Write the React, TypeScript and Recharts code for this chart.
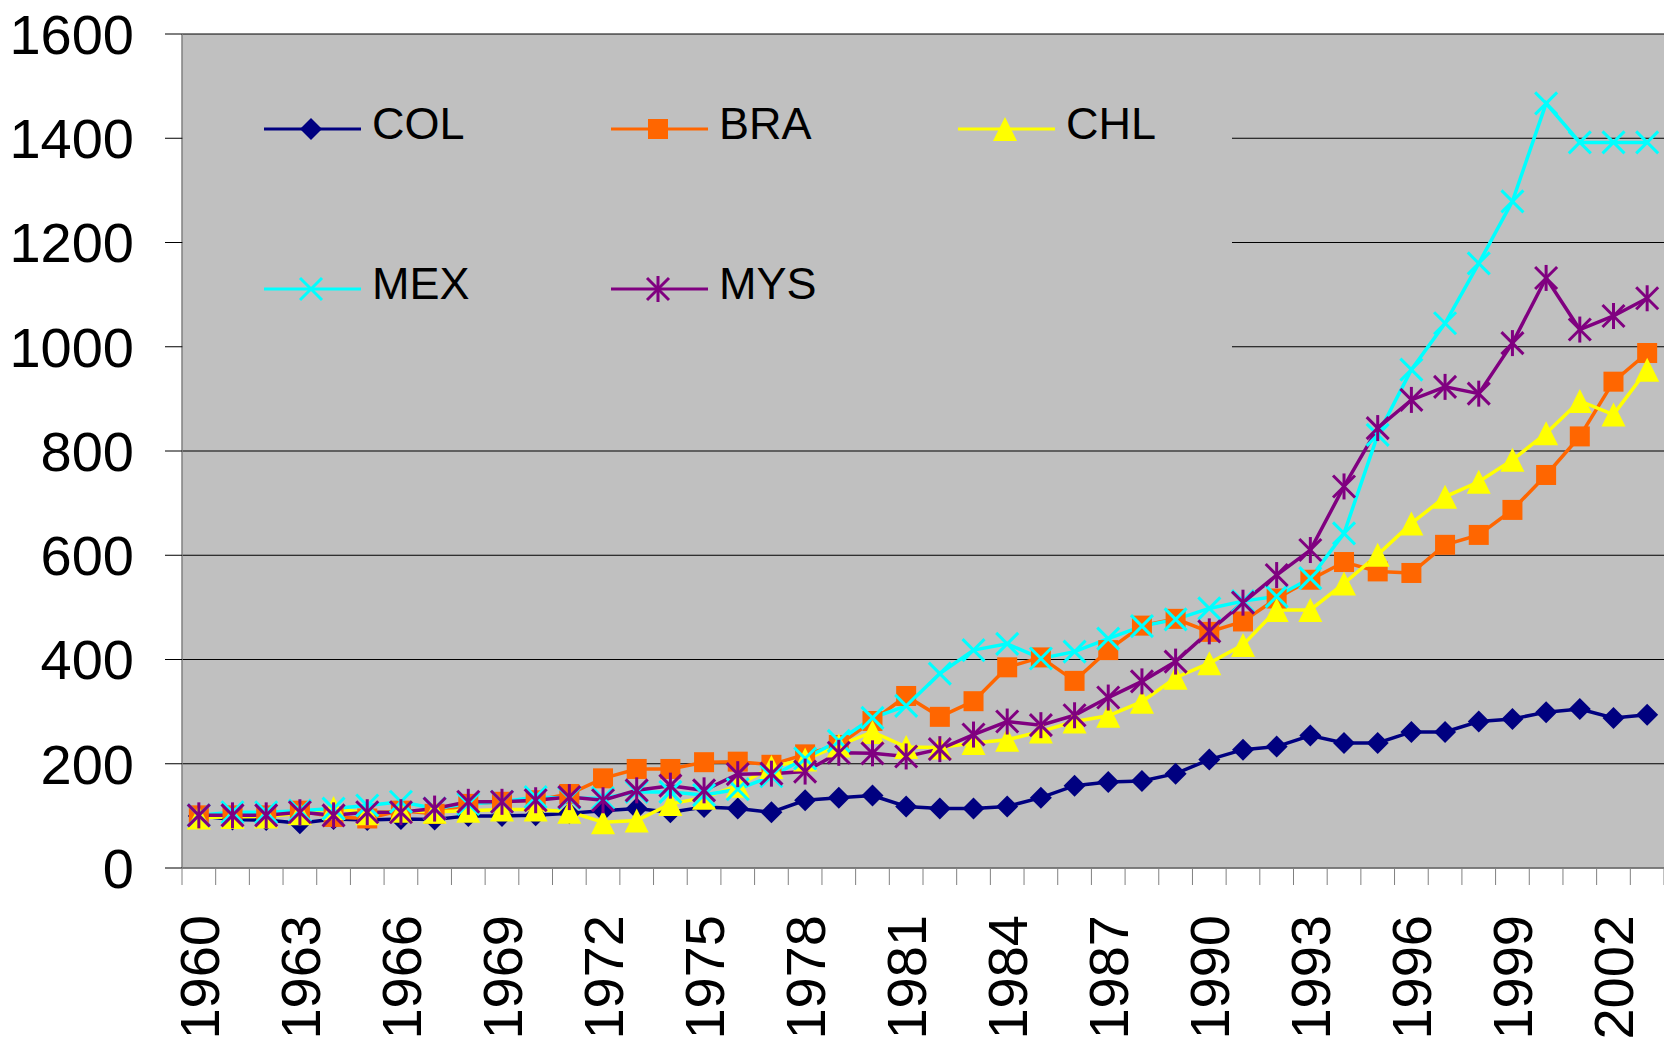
import { LineChart, Line, XAxis, YAxis, CartesianGrid, Legend } from "recharts";

const years = [
  1960, 1961, 1962, 1963, 1964, 1965, 1966, 1967, 1968, 1969,
  1970, 1971, 1972, 1973, 1974, 1975, 1976, 1977, 1978, 1979,
  1980, 1981, 1982, 1983, 1984, 1985, 1986, 1987, 1988, 1989,
  1990, 1991, 1992, 1993, 1994, 1995, 1996, 1997, 1998, 1999,
  2000, 2001, 2002, 2003,
];

const col = [
  100, 93, 92, 86, 94, 92, 94, 93, 100, 100,
  101, 105, 110, 114, 107, 117, 114, 107, 130, 135,
  139, 118, 114, 114, 118, 135, 158, 165, 167, 181,
  208, 227, 233, 254, 240, 240, 261, 261, 281, 286,
  299, 305, 288, 294,
];

const bra = [
  101, 101, 101, 110, 98, 95, 110, 104, 123, 127,
  130, 142, 172, 190, 190, 203, 204, 198, 218, 236,
  282, 330, 290, 320, 385, 404, 359, 418, 465, 478,
  453, 473, 517, 553, 587, 569, 566, 620, 639, 687,
  754, 828, 933, 988,
];

const chl = [
  97, 98, 99, 105, 115, 105, 110, 108, 110, 112,
  112, 108, 88, 91, 123, 135, 158, 194, 208, 235,
  261, 232, 231, 240, 246, 262, 281, 292, 319, 365,
  393, 428, 495, 495, 546, 601, 661, 712, 741, 783,
  834, 896, 870, 956,
];

const mex = [
  101, 107, 107, 110, 114, 120, 127, 114, 123, 127,
  136, 134, 134, 146, 146, 140, 151, 176, 210, 244,
  288, 311, 373, 418, 430, 402, 415, 440, 464, 477,
  498, 512, 521, 556, 642, 831, 956, 1045, 1160, 1279,
  1467, 1392, 1392, 1392,
];

const mys = [
  101, 101, 101, 107, 101, 107, 107, 114, 127, 127,
  130, 136, 130, 149, 158, 149, 180, 181, 185, 221,
  220, 214, 228, 256, 281, 274, 293, 327, 358, 396,
  454, 509, 562, 610, 732, 844, 898, 923, 910, 1007,
  1132, 1033, 1059, 1093,
];

const yearLabels = [1960, 1963, 1966, 1969, 1972, 1975, 1978, 1981, 1984, 1987, 1990, 1993, 1996, 1999, 2002];
const yTicks = [0, 200, 400, 600, 800, 1000, 1200, 1400, 1600];

const series = [
  { key: "COL", values: col, color: "#000080", shape: "diamond" },
  { key: "BRA", values: bra, color: "#FF6600", shape: "square" },
  { key: "CHL", values: chl, color: "#FFFF00", shape: "triangle" },
  { key: "MEX", values: mex, color: "#00FFFF", shape: "x" },
  { key: "MYS", values: mys, color: "#800080", shape: "star" },
];

const data = years.map((year, i) => {
  const row: Record<string, number> = { year };
  series.forEach((s) => (row[s.key] = s.values[i]));
  return row;
});

// tick lines sit between the years, labels on every third year
const boundaries = [...years.map((y) => y - 0.5), years[years.length - 1] + 0.5];
const xTicks = [...boundaries, ...yearLabels].sort((a, b) => a - b);

const FONT = "'Liberation Sans', Arial, sans-serif";

const Marker = ({ shape, cx, cy, color }: { shape: string; cx: number; cy: number; color: string }) => {
  if (cx == null || cy == null) return null;
  if (shape === "diamond")
    return <polygon points={`${cx},${cy - 11} ${cx + 11},${cy} ${cx},${cy + 11} ${cx - 11},${cy}`} fill={color} />;
  if (shape === "square") return <rect x={cx - 10} y={cy - 10} width={20} height={20} fill={color} />;
  if (shape === "triangle")
    return <polygon points={`${cx},${cy - 12} ${cx + 12},${cy + 12} ${cx - 12},${cy + 12}`} fill={color} />;
  const d = 11;
  return (
    <g stroke={color} strokeWidth={3}>
      <line x1={cx - d} y1={cy - d} x2={cx + d} y2={cy + d} />
      <line x1={cx - d} y1={cy + d} x2={cx + d} y2={cy - d} />
      {shape === "star" && <line x1={cx} y1={cy - 13} x2={cx} y2={cy + 13} />}
    </g>
  );
};

const XTick = ({ x, y, payload }: any) => {
  const v = payload.value;
  if (Number.isInteger(v)) {
    return (
      <text
        transform={`translate(${x},${y + 47}) rotate(-90)`}
        dy={20}
        textAnchor="end"
        fontSize={56}
        fontFamily={FONT}
        fill="#000"
      >
        {v}
      </text>
    );
  }
  return <line x1={x} x2={x} y1={y} y2={y + 17} stroke="#808080" strokeWidth={1} />;
};

const LegendBox = () => (
  <svg width={1049} height={320}>
    {series.map((s, i) => {
      const lx = 81 + (i % 3) * 347;
      const ly = 69 + Math.floor(i / 3) * 160;
      return (
        <g key={s.key}>
          <line x1={lx} x2={lx + 97} y1={ly} y2={ly} stroke={s.color} strokeWidth={3} />
          <Marker shape={s.shape} cx={lx + 47} cy={ly} color={s.color} />
          <text x={lx + 108} y={ly + 10} fontSize={45} fontFamily={FONT} fill="#000">
            {s.key}
          </text>
        </g>
      );
    })}
  </svg>
);

export default function App() {
  return (
    <div style={{ position: "absolute", left: 0, top: 0, width: 1664, height: 1037, overflow: "hidden", background: "#fff" }}>
      <LineChart
        width={1664}
        height={1037}
        data={data}
        margin={{ top: 34, right: 0, bottom: 0, left: 0 }}
        style={{ fontFamily: FONT }}
      >
        <CartesianGrid vertical={false} stroke="#000" fill="#C0C0C0" fillOpacity={1} />
        <XAxis
          dataKey="year"
          type="number"
          domain={[1959.5, 2003.5]}
          ticks={xTicks}
          interval={0}
          height={169}
          tickLine={false}
          tickSize={0}
          tickMargin={0}
          tick={<XTick />}
          axisLine={{ stroke: "#808080", strokeWidth: 1.5 }}
        />
        <YAxis
          domain={[0, 1600]}
          ticks={yTicks}
          interval={0}
          width={182}
          tickSize={17}
          tickMargin={31}
          tick={{ fontSize: 56, fill: "#000", fontFamily: FONT }}
          tickLine={{ stroke: "#000" }}
          axisLine={{ stroke: "#808080", strokeWidth: 1.5 }}
        />
        <Legend
          layout="vertical"
          align="center"
          verticalAlign="middle"
          content={<LegendBox />}
          wrapperStyle={{ left: 183, top: 60, width: 1049, height: 320, background: "#C0C0C0" }}
        />
        {series.map((s) => (
          <Line
            key={s.key}
            type="linear"
            dataKey={s.key}
            stroke={s.color}
            strokeWidth={3.5}
            isAnimationActive={false}
            activeDot={false}
            dot={(p: any) => <Marker key={`${s.key}-${p.index}`} shape={s.shape} cx={p.cx} cy={p.cy} color={s.color} />}
          />
        ))}
      </LineChart>
    </div>
  );
}
